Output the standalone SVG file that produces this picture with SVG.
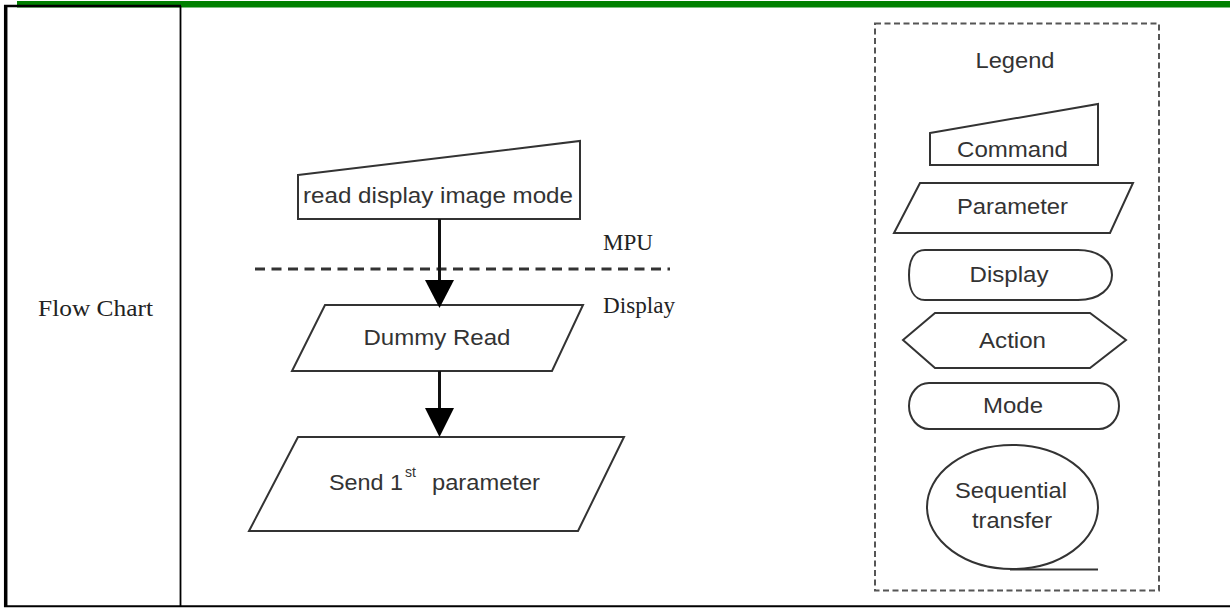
<svg xmlns="http://www.w3.org/2000/svg" width="1230" height="608" viewBox="0 0 1230 608">
<style>
.shape{fill:#fff;stroke:#333;stroke-width:2}
.sans{font-family:"Liberation Sans",Arial,sans-serif;font-size:22px;fill:#333;text-anchor:middle}
.serif{font-family:"Liberation Serif","Times New Roman",serif;font-size:23px;fill:#222}
.conn{stroke:#111;stroke-width:3;fill:none}
.head{fill:#000}
</style>
<rect width="1230" height="608" fill="#fff"/>
<g id="table">
<rect x="17" y="1" width="1213" height="6.5" fill="#008000"/>
<line x1="4" y1="6" x2="181" y2="6" stroke="#000" stroke-width="2.5"/>
<line x1="5.7" y1="5" x2="5.7" y2="607" stroke="#000" stroke-width="3.5"/>
<line x1="180.5" y1="6" x2="180.5" y2="606" stroke="#000" stroke-width="1.8"/>
<line x1="4" y1="606.3" x2="1230" y2="606.3" stroke="#000" stroke-width="2"/>
<text x="38" y="316" class="serif" font-size="24" textLength="115" lengthAdjust="spacingAndGlyphs">Flow Chart</text>
</g>
<g id="divider">
<line x1="255" y1="269" x2="670" y2="269" stroke="#333" stroke-width="3" stroke-dasharray="10,6.5"/>
<text x="603" y="250" class="serif" textLength="50" lengthAdjust="spacingAndGlyphs">MPU</text>
<text x="603" y="313" class="serif" textLength="72" lengthAdjust="spacingAndGlyphs">Display</text>
</g>
<g id="node-read">
<polygon class="shape" points="298,175 580,141 580,219 298,219"/>
<text x="438" y="203" class="sans" textLength="270" lengthAdjust="spacingAndGlyphs">read display image mode</text>
</g>
<g id="node-dummy">
<polygon class="shape" points="325,305 583,305 552,371 292,371"/>
<text x="437" y="345" class="sans" textLength="147" lengthAdjust="spacingAndGlyphs">Dummy Read</text>
</g>
<g id="node-send">
<polygon class="shape" points="298,437 624,437 578,531 249,531"/>
<text y="490" class="sans" style="text-anchor:start"><tspan x="329" textLength="74" lengthAdjust="spacingAndGlyphs">Send 1</tspan><tspan x="405" y="477" font-size="14">st</tspan><tspan x="432" y="490" textLength="108" lengthAdjust="spacingAndGlyphs">parameter</tspan></text>
</g>
<g id="connectors">
<line class="conn" x1="439.5" y1="219" x2="439.5" y2="282"/>
<polygon class="head" points="425,280 454,280 439.5,308"/>
<line class="conn" x1="439.5" y1="371" x2="439.5" y2="410"/>
<polygon class="head" points="425,408 454,408 439.5,437"/>
</g>
<g id="legend">
<rect x="875" y="23.5" width="284" height="567" fill="none" stroke="#555" stroke-width="2" stroke-dasharray="6,3.5"/>
<text x="1015" y="68" class="sans" textLength="79" lengthAdjust="spacingAndGlyphs">Legend</text>
</g>
<g id="legend-command">
<polygon class="shape" points="930,133 1098,104 1098,165 930,165"/>
<text x="1012.5" y="157" class="sans" textLength="111" lengthAdjust="spacingAndGlyphs">Command</text>
</g>
<g id="legend-parameter">
<polygon class="shape" points="920,183 1133,183 1110,233 894,233"/>
<text x="1012.5" y="214" class="sans" textLength="111" lengthAdjust="spacingAndGlyphs">Parameter</text>
</g>
<g id="legend-display">
<path class="shape" d="M925,250 L1078,250 C1100,250 1112,262 1112,275 C1112,288 1100,300 1078,300 L925,300 C913,300 909,288 909,275 C909,262 913,250 925,250 Z"/>
<text x="1009" y="282" class="sans" textLength="79" lengthAdjust="spacingAndGlyphs">Display</text>
</g>
<g id="legend-action">
<polygon class="shape" points="935,313 1090,313 1126,340 1090,368 935,368 903,340"/>
<text x="1012.5" y="348" class="sans" textLength="67" lengthAdjust="spacingAndGlyphs">Action</text>
</g>
<g id="legend-mode">
<rect class="shape" x="909" y="383" width="210" height="46" rx="20" ry="23"/>
<text x="1013" y="413" class="sans" textLength="60" lengthAdjust="spacingAndGlyphs">Mode</text>
</g>
<g id="legend-sequential">
<ellipse class="shape" cx="1012.5" cy="507" rx="85.5" ry="62"/>
<line x1="1010" y1="569.5" x2="1098" y2="569.5" stroke="#333" stroke-width="2"/>
<text x="1011" y="498" class="sans" textLength="112" lengthAdjust="spacingAndGlyphs">Sequential</text>
<text x="1012" y="528" class="sans" textLength="80" lengthAdjust="spacingAndGlyphs">transfer</text>
</g>
</svg>
